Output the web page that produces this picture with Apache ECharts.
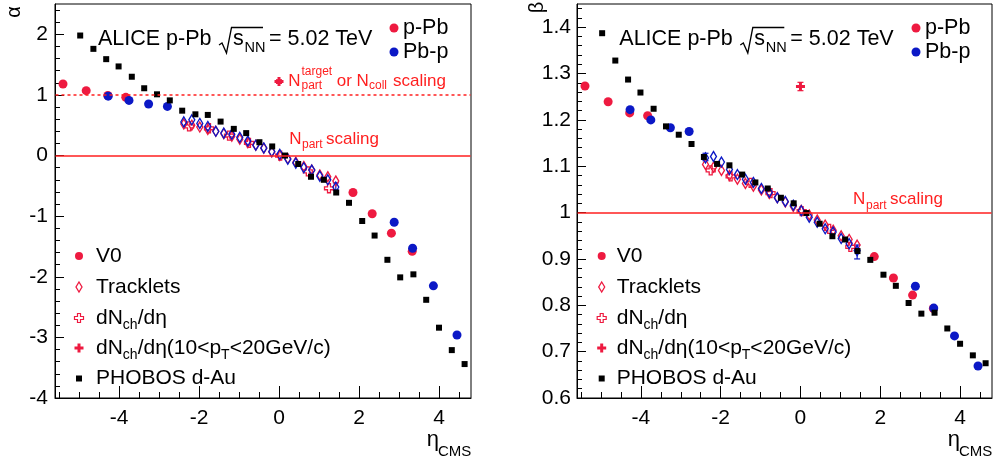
<!DOCTYPE html>
<html><head><meta charset="utf-8">
<script src="https://cdn.jsdelivr.net/npm/echarts@6/dist/echarts.min.js"></script>
<style>html,body{margin:0;padding:0;background:#fff}#c{width:995px;height:463px}</style>
</head><body><div id="c"></div>
<script>
// ---------------- data ----------------
const etaPhobos = [-4.97,-4.64,-4.32,-4.01,-3.68,-3.37,-3.05,-2.73,-2.42,-2.09,-1.78,-1.46,-1.13,-0.82,-0.49,-0.17,0.15,0.48,0.80,1.12,1.43,1.75,2.08,2.39,2.71,3.03,3.36,3.68,4.00,4.32,4.64];
const alphaPhobos = [1.98,1.76,1.59,1.47,1.30,1.11,1.01,0.91,0.74,0.68,0.67,0.56,0.44,0.37,0.22,0.15,0.00,-0.14,-0.35,-0.40,-0.61,-0.78,-1.08,-1.32,-1.72,-2.01,-1.96,-2.38,-2.84,-3.21,-3.44];
const betaPhobos = [1.387,1.328,1.287,1.259,1.224,1.186,1.168,1.148,1.120,1.105,1.102,1.082,1.065,1.052,1.032,1.020,0.999,0.976,0.949,0.942,0.917,0.898,0.866,0.842,0.805,0.782,0.784,0.750,0.717,0.692,0.675];

const etaV0pPb = [-5.40,-4.82,-4.28,-3.83,1.85,2.33,2.81,3.33];
const alphaV0pPb = [1.18,1.07,0.99,0.96,-0.61,-0.96,-1.28,-1.58];
const betaV0pPb = [1.273,1.239,1.215,1.209,0.905,0.859,0.822,0.793];

const etaV0Pbp = [-4.27,-3.75,-3.26,-2.79,2.88,3.34,3.86,4.45];
const alphaV0Pbp = [0.98,0.91,0.85,0.81,-1.10,-1.53,-2.15,-2.96];
const betaV0Pbp = [1.222,1.200,1.183,1.175,0.841,0.794,0.734,0.669];

const etaTrk = [-2.38,-2.18,-1.98,-1.78,-1.58,-1.38,-1.18,-0.98,-0.78,-0.58,-0.38,-0.18,0.02,0.22,0.42,0.62,0.82,1.02,1.22,1.42];
const alphaTrkpPb = [0.52,0.50,0.47,0.43,0.40,0.36,0.32,0.27,0.21,0.17,0.12,0.06,0.00,-0.05,-0.11,-0.18,-0.24,-0.32,-0.35,-0.42];
const alphaTrkPbp = [0.555,0.59,0.53,0.48,0.40,0.37,0.35,0.30,0.24,0.17,0.125,0.066,0.02,-0.06,-0.125,-0.20,-0.24,-0.34,-0.40,-0.52];
const betaTrkpPb = [1.104,1.098,1.091,1.080,1.072,1.063,1.057,1.049,1.041,1.032,1.023,1.013,1.005,0.995,0.984,0.973,0.962,0.950,0.942,0.930];
const betaTrkPbp = [1.118,1.121,1.109,1.093,1.082,1.072,1.065,1.052,1.044,1.032,1.024,1.016,1.004,0.990,0.979,0.965,0.958,0.944,0.933,0.918];

const etaDndeta = [-2.25,-1.75,-1.25,-0.75,0.03,0.72,1.25];
const alphaDndeta = [0.48,0.45,0.33,0.21,0.00,-0.26,-0.54];
const betaDndeta = [1.091,1.078,1.064,1.042,1.003,0.965,0.926];

const etaHighPt = [0.0];
const alphaHighPt = [1.22];
const betaHighPt = [1.272];

// error bars: [eta, low, high]
const errAlphaPbp = [[1.42,-0.57,-0.45]];
const errAlphaHighPt = [[0.0,1.19,1.25]];
const errBetaPbp = [[-2.38,1.112,1.128],[1.42,0.900,0.930]];
const errBetaHighPt = [[0.0,1.263,1.281]];

// reference scaling lines
const alphaNcollLine = 1;   // N_part^target or N_coll scaling (dashed)
const alphaNpartLine = 0;   // N_part scaling
const betaNpartLine = 1;    // N_part scaling

const xTicks = [-4,-2,0,2,4];
const alphaTicks = [-4,-3,-2,-1,0,1,2];
const betaTicks = [0.6,0.7,0.8,0.9,1,1.1,1.2,1.3,1.4];

// ---------------- helpers ----------------
const XMIN = -5.6, XMAX = 4.8;
const RED = '#ee1a40', BLUE = '#0b18c6', LINE = '#ff1f1f';
const FONT = '"Liberation Sans", Arial, Helvetica, sans-serif';
const mctx = document.createElement('canvas').getContext('2d');
function tw(t, s) { mctx.font = s + 'px ' + FONT; return mctx.measureText(t).width; }
function T(x, y, t, s, c, extra) {
  return Object.assign({ type: 'text', x: x, y: y, silent: true, z: 100,
    style: { text: t, font: s + 'px ' + FONT, fill: c || '#000', textAlign: 'left', textVerticalAlign: 'middle', align: 'left', verticalAlign: 'middle' } }, extra || {});
}
function seq(x, y, parts, c) {
  const out = [];
  for (const p of parts) { out.push(T(x, y + (p[2] || 0), p[0], p[1], c)); x += tw(p[0], p[1]); }
  return out;
}
function steps(a, b, d) { const r = []; for (let i = 0; a + i * d <= b + 1e-9; i++) r.push(+(a + i * d).toFixed(4)); return r; }
function zip(xs, ys) { return xs.map((x, i) => [x, ys[i]]); }

const DIAMOND = 'path://M0,-1L0.6,0L0,1L-0.6,0Z';
const CROSS = 'path://M-0.33,-1L0.33,-1L0.33,-0.33L1,-0.33L1,0.33L0.33,0.33L0.33,1L-0.33,1L-0.33,0.33L-1,0.33L-1,-0.33L-0.33,-0.33Z';

const chart = echarts.init(document.getElementById('c'), null, { renderer: 'canvas' });

const grids = [
  { left: 55, top: 4, width: 416, height: 394 },
  { left: 577, top: 4, width: 415, height: 394 }
];

function xAxes(gi) {
  const base = { type: 'value', gridIndex: gi, min: XMIN, max: XMAX, position: 'bottom', splitLine: { show: false }, minorSplitLine: { show: false } };
  return [
    Object.assign({}, base, {
      axisLine: { show: true, onZero: false, lineStyle: { color: '#000', width: 1 } },
      axisTick: { show: true, inside: true, length: 12, customValues: xTicks, lineStyle: { color: '#000' } },
      axisLabel: { show: true, customValues: xTicks, fontSize: 21, fontFamily: FONT, color: '#000', margin: 10 }
    }),
    Object.assign({}, base, {
      axisLine: { show: false, onZero: false, lineStyle: { color: '#000' } },
      axisTick: { show: true, inside: true, length: 6, customValues: steps(-5.5, 4.5, 0.5), lineStyle: { color: '#000' } },
      axisLabel: { show: false }
    })
  ];
}
function yAxes(gi, min, max, major, minorStep, minorStart, labelMargin) {
  const base = { type: 'value', gridIndex: gi, min: min, max: max, position: 'left', splitLine: { show: false }, minorSplitLine: { show: false } };
  return [
    Object.assign({}, base, {
      axisLine: { show: true, onZero: false, lineStyle: { color: '#000', width: 1 } },
      axisTick: { show: true, inside: true, length: 9, customValues: major, lineStyle: { color: '#000' } },
      axisLabel: { show: true, customValues: major, fontSize: 21, fontFamily: FONT, color: '#000', margin: labelMargin }
    }),
    Object.assign({}, base, {
      axisLine: { show: false, onZero: false, lineStyle: { color: '#000' } },
      axisTick: { show: true, inside: true, length: 5, customValues: steps(minorStart, max, minorStep), lineStyle: { color: '#000' } },
      axisLabel: { show: false }
    })
  ];
}

function errSeries(xi, yi, data, color) {
  return {
    type: 'custom', xAxisIndex: xi, yAxisIndex: yi, z: 3, silent: true, data: data,
    renderItem: function (params, api) {
      const lo = api.coord([api.value(0), api.value(1)]);
      const hi = api.coord([api.value(0), api.value(2)]);
      const w = 3;
      return { type: 'group', children: [
        { type: 'line', shape: { x1: lo[0], y1: lo[1], x2: hi[0], y2: hi[1] }, style: { stroke: color, lineWidth: 1.2 } },
        { type: 'line', shape: { x1: lo[0] - w, y1: lo[1], x2: lo[0] + w, y2: lo[1] }, style: { stroke: color, lineWidth: 1.2 } },
        { type: 'line', shape: { x1: hi[0] - w, y1: hi[1], x2: hi[0] + w, y2: hi[1] }, style: { stroke: color, lineWidth: 1.2 } }
      ] };
    }
  };
}

function panelSeries(xi, yi, v0a, v0b, trkA, trkB, dnd, hip, phob, errB, errH) {
  const sc = (data, symbol, size, style, z) => ({ type: 'scatter', xAxisIndex: xi, yAxisIndex: yi, data: data, symbol: symbol, symbolSize: size, itemStyle: Object.assign({ opacity: 1 }, style), z: z, silent: true });
  return [
    sc(zip(etaV0pPb, v0a), 'circle', 9, { color: RED }, 4),
    sc(zip(etaV0Pbp, v0b), 'circle', 9, { color: BLUE }, 5),
    sc(zip(etaTrk, trkA), DIAMOND, [6, 10], { color: 'transparent', borderColor: RED, borderWidth: 1.4 }, 6),
    sc(zip(etaDndeta, dnd), CROSS, 9, { color: 'transparent', borderColor: RED, borderWidth: 1.3 }, 6),
    sc(zip(etaTrk, trkB), DIAMOND, [6, 10], { color: 'transparent', borderColor: BLUE, borderWidth: 1.4 }, 7),
    errSeries(xi, yi, errB, BLUE),
    errSeries(xi, yi, errH, RED),
    sc(zip(etaHighPt, hip), CROSS, 9, { color: RED }, 8),
    sc(zip(etaPhobos, phob), 'rect', 6, { color: '#000' }, 9)
  ];
}

const series = [].concat(
  panelSeries(0, 0, alphaV0pPb, alphaV0Pbp, alphaTrkpPb, alphaTrkPbp, alphaDndeta, alphaHighPt, alphaPhobos, errAlphaPbp, errAlphaHighPt),
  panelSeries(2, 2, betaV0pPb, betaV0Pbp, betaTrkpPb, betaTrkPbp, betaDndeta, betaHighPt, betaPhobos, errBetaPbp, errBetaHighPt)
);

// ---------------- text / legends ----------------
const g = [];
function title(x0) {
  g.push(T(x0, 39, 'ALICE p-Pb', 21.5));
  g.push({ type: 'polyline', silent: true, z: 100, shape: { points: [[x0 + 121, 45], [x0 + 124, 43], [x0 + 128.5, 53], [x0 + 133.5, 27.5], [x0 + 165, 27.5]] }, style: { stroke: '#000', lineWidth: 1.3, fill: null } });
  g.push(T(x0 + 135, 39, 's', 21.5));
  g.push(T(x0 + 146.5, 48, 'NN', 14.5));
  g.push(T(x0 + 171, 39, '= 5.02 TeV', 21.5));
}
function sysLegend(cx, tx) {
  g.push({ type: 'circle', silent: true, z: 100, shape: { cx: cx, cy: 28, r: 4.5 }, style: { fill: RED } });
  g.push(T(tx, 28.5, 'p-Pb', 21.5));
  g.push({ type: 'circle', silent: true, z: 100, shape: { cx: cx, cy: 52, r: 4.5 }, style: { fill: BLUE } });
  g.push(T(tx, 52.5, 'Pb-p', 21.5));
}
function markerLegend(sx, tx) {
  const ys = [256, 287, 318, 348, 378.5];
  g.push({ type: 'circle', silent: true, z: 100, shape: { cx: sx, cy: ys[0], r: 4 }, style: { fill: RED } });
  g.push(T(tx, ys[0], 'V0', 21));
  g.push({ type: 'polygon', silent: true, z: 100, shape: { points: [[sx, ys[1] - 5], [sx + 3, ys[1]], [sx, ys[1] + 5], [sx - 3, ys[1]]] }, style: { fill: null, stroke: RED, lineWidth: 1.3 } });
  g.push(T(tx, ys[1], 'Tracklets', 21));
  const cr = (cy, filled) => ({ type: 'polygon', silent: true, z: 100, shape: { points: [[-1.5,-4.5],[1.5,-4.5],[1.5,-1.5],[4.5,-1.5],[4.5,1.5],[1.5,1.5],[1.5,4.5],[-1.5,4.5],[-1.5,1.5],[-4.5,1.5],[-4.5,-1.5],[-1.5,-1.5]].map(p => [sx + p[0], cy + p[1]]) }, style: filled ? { fill: RED } : { fill: null, stroke: RED, lineWidth: 1.2 } });
  g.push(cr(ys[2], false));
  seq(tx, ys[2], [['dN', 21], ['ch', 14, 7], ['/dη', 21]]).forEach(e => g.push(e));
  g.push(cr(ys[3], true));
  seq(tx, ys[3], [['dN', 21], ['ch', 14, 7], ['/dη(10<p', 21], ['T', 14, 7], ['<20GeV/c)', 21]]).forEach(e => g.push(e));
  g.push({ type: 'rect', silent: true, z: 100, shape: { x: sx - 3, y: ys[4] - 3, width: 6, height: 6 }, style: { fill: '#000' } });
  g.push(T(tx, ys[4], 'PHOBOS d-Au', 21));
}
function etaTitle(x) {
  g.push(T(x, 439.5, 'η', 22));
  g.push(T(x + 11.3, 451.5, 'CMS', 15));
}

// left panel
title(98);
sysLegend(394, 403);
markerLegend(79, 96);
etaTitle(426.7);
g.push(T(14.7, 12, 'α', 20, '#000', { rotation: Math.PI / 2, style: { text: 'α', font: '20px ' + FONT, fill: '#000', textAlign: 'center', textVerticalAlign: 'middle', align: 'center', verticalAlign: 'middle' } }));
g.push(T(288.3, 81, 'N', 17, LINE));
g.push(T(301.5, 71.8, 'target', 12, LINE));
g.push(T(301.5, 86, 'part', 12, LINE));
g.push(T(336.7, 81.3, 'or N', 17, LINE));
g.push(T(369, 85.5, 'coll', 12, LINE));
g.push(T(393, 81.3, 'scaling', 17, LINE));
g.push(T(289.3, 139.5, 'N', 17, LINE));
g.push(T(302, 145, 'part', 12, LINE));
g.push(T(326, 139.5, 'scaling', 17, LINE));

// right panel
title(619.3);
sysLegend(916, 925);
markerLegend(601.7, 616.7);
etaTitle(947.7);
g.push(T(537.5, 7.5, 'β', 20, '#000', { rotation: Math.PI / 2, style: { text: 'β', font: '20px ' + FONT, fill: '#000', textAlign: 'center', textVerticalAlign: 'middle', align: 'center', verticalAlign: 'middle' } }));
g.push(T(853, 199.8, 'N', 17, LINE));
g.push(T(866, 205.5, 'part', 12, LINE));
g.push(T(890, 199.8, 'scaling', 17, LINE));

chart.setOption({
  animation: false,
  backgroundColor: '#fff',
  grid: grids.map(gr => Object.assign({ show: true, borderColor: '#000', borderWidth: 1, backgroundColor: 'transparent', containLabel: false }, gr)),
  xAxis: [].concat(xAxes(0), xAxes(1)),
  yAxis: [].concat(
    yAxes(0, -4, 2.5, alphaTicks, 0.2, -3.8, 7),
    yAxes(1, 0.6, 1.45, betaTicks, 0.02, 0.62, 6)
  ),
  series: series
});

// reference scaling lines, placed through the chart's own axis scales
// (drawn 1.5px wide on a pixel boundary so the red survives image compression)
function refLineGraphic(axes, v, dash) {
  const a = chart.convertToPixel(axes, [XMIN, v]);
  const b = chart.convertToPixel(axes, [XMAX, v]);
  const y = Math.round(a[1]);
  return { type: 'line', silent: true, z: 95, shape: { x1: a[0] + 0.5, y1: y, x2: b[0] - 0.5, y2: y }, style: { stroke: LINE, lineWidth: 1.6, lineDash: dash } };
}
g.push(refLineGraphic({ xAxisIndex: 0, yAxisIndex: 0 }, alphaNcollLine, [3, 3]));
g.push(refLineGraphic({ xAxisIndex: 0, yAxisIndex: 0 }, alphaNpartLine, null));
g.push(refLineGraphic({ xAxisIndex: 2, yAxisIndex: 2 }, betaNpartLine, null));

chart.setOption({ graphic: { elements: g } });
</script>
</body></html>
